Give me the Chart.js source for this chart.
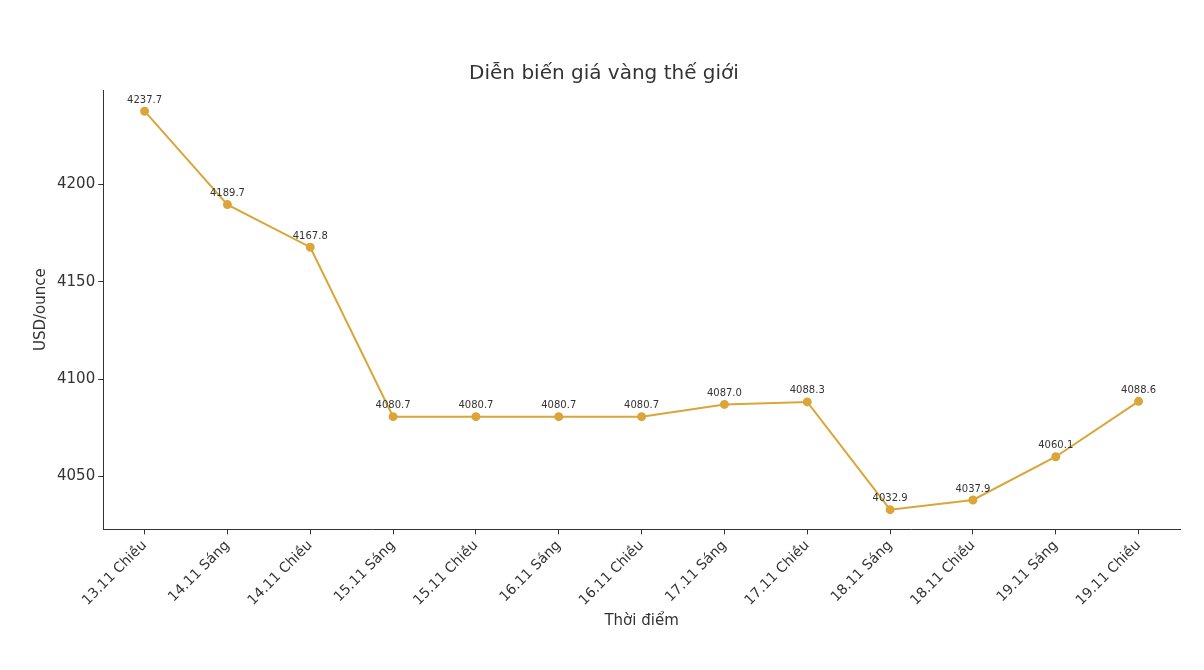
<!DOCTYPE html>
<html>
<head>
<meta charset="utf-8">
<script src="https://cdn.jsdelivr.net/npm/chart.js@4"></script>
<style>
  body { margin: 0; background: #fff; }
  #wrap { width: 1204px; height: 670px; }
</style>
</head>
<body>
<div id="wrap"><canvas id="grafica"></canvas></div>
<script>
const labels = ['13.11 Chiều', '14.11 Sáng', '14.11 Chiều', '15.11 Sáng', '15.11 Chiều', '16.11 Sáng',
	'16.11 Chiều', '17.11 Sáng', '17.11 Chiều', '18.11 Sáng', '18.11 Chiều', '19.11 Sáng', '19.11 Chiều'];
const prices = [4237.7, 4189.7, 4167.8, 4080.7, 4080.7, 4080.7, 4080.7, 4087.0, 4088.3, 4032.9, 4037.9, 4060.1, 4088.6];
const yTicks = [4050, 4100, 4150, 4200];

const color = '#dba539';
const font = 'DejaVu Sans';

const valueLabels = {
	id: 'valueLabels',
	afterDatasetsDraw(chart) {
		const ctx = chart.ctx;
		const meta = chart.getDatasetMeta(0);
		ctx.save();
		ctx.font = '10px "' + font + '"';
		ctx.fillStyle = '#333';
		ctx.textAlign = 'center';
		ctx.textBaseline = 'bottom';
		meta.data.forEach((pt, i) => {
			ctx.fillText(prices[i].toFixed(1), pt.x, pt.y - 6);
		});
		ctx.restore();
	},
};

new Chart(document.getElementById('grafica'), {
	type: 'line',
	data: {
		labels: labels,
		datasets: [{
			data: prices,
			borderColor: color,
			backgroundColor: color,
			borderWidth: 2,
			pointRadius: 3.5,
			tension: 0,
		}],
	},
	options: {
		responsive: true,
		maintainAspectRatio: false,
		animation: false,
		layout: { padding: { left: 28, right: 24, top: 62, bottom: 40 } },
		plugins: {
			legend: { display: false },
			tooltip: { enabled: false },
			title: {
				display: true,
				text: 'Diễn biến giá vàng thế giới',
				color: '#333',
				font: { family: font, size: 20, weight: 'normal' },
				padding: { bottom: 4 },
			},
		},
		scales: {
			x: {
				offset: true,
				grid: { drawOnChartArea: false, drawTicks: true, tickLength: 5, color: '#333' },
				border: { color: '#333' },
				ticks: {
					color: '#333',
					maxRotation: 45,
					minRotation: 45,
					font: { family: font, size: 14 },
				},
				title: { display: true, text: 'Thời điểm', color: '#333', font: { family: font, size: 15 }, padding: 0 },
			},
			y: {
				min: 4022.8,
				max: 4248.6,
				grid: { drawOnChartArea: false, drawTicks: true, tickLength: 5, color: '#333' },
				border: { color: '#333' },
				afterBuildTicks: (axis) => { axis.ticks = yTicks.map((v) => ({ value: v })); },
				ticks: { color: '#333', font: { family: font, size: 15 }, callback: (v) => String(v) },
				title: { display: true, text: 'USD/ounce', color: '#333', font: { family: font, size: 15 } },
			},
		},
	},
	plugins: [valueLabels],
});
</script>
</body>
</html>
